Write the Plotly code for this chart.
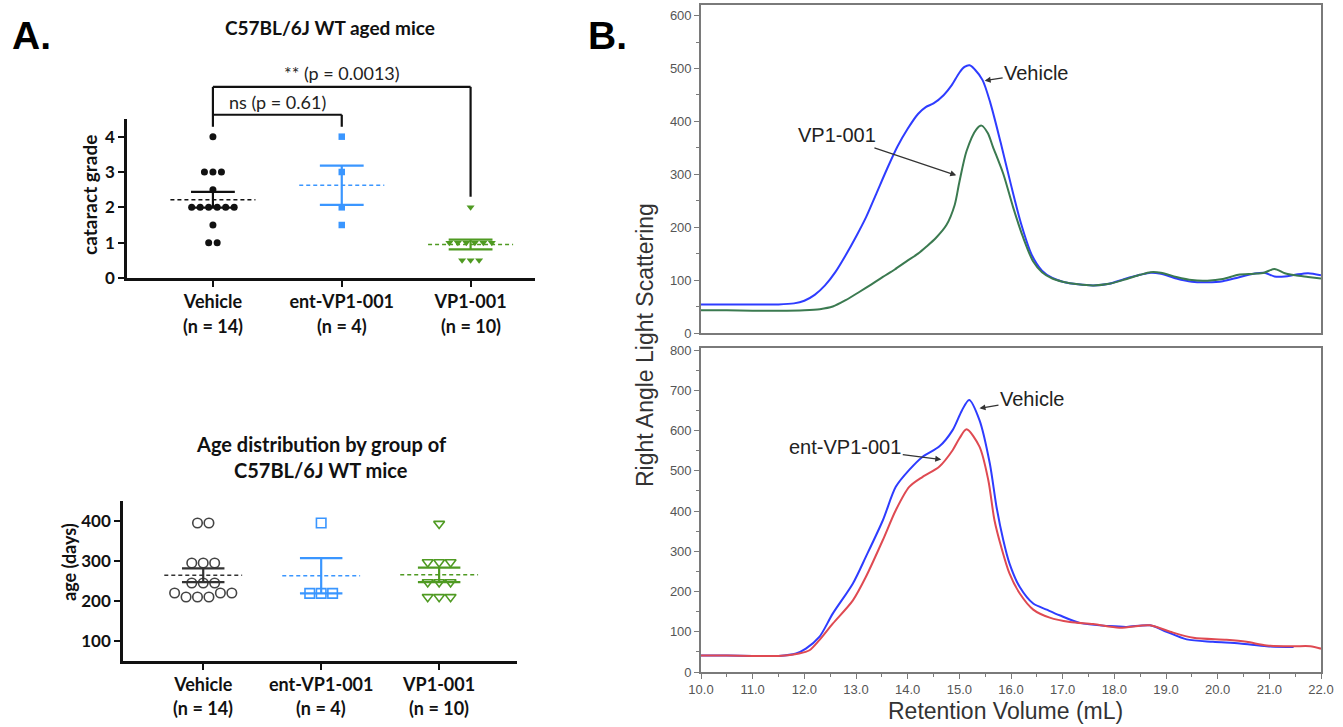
import numpy as np
import plotly.graph_objects as go

W, H = 1343, 727

# ---------------- data ----------------
groups = ["Vehicle", "ent-VP1-001", "VP1-001"]

grade_vehicle = [4, 3, 3, 3, 2.5, 2, 2, 2, 2, 2, 2, 1.5, 1, 1]
grade_ent = [4, 3, 2, 1.5]
grade_vp1 = [2, 1, 1, 1, 1, 1, 1, 0.5, 0.5, 0.5]

age_vehicle = [395, 395, 295, 295, 295, 245, 245, 245, 220, 210, 210, 210, 220, 220]
age_ent = [395, 219, 219, 219]
age_vp1 = [393, 297, 297, 297, 247, 247, 247, 210, 210, 210]

p_labels = ["ns (p = 0.61)", "** (p = 0.0013)"]

vol_top_vehicle = [10.0, 10.5, 11.0, 11.5, 11.8, 12.0, 12.2, 12.4, 12.6, 12.8, 13.0, 13.2, 13.4, 13.6,
                   13.8, 14.0, 14.2, 14.35, 14.5, 14.7, 14.85, 15.0, 15.1, 15.2, 15.3, 15.45, 15.6,
                   15.8, 16.0, 16.2, 16.4, 16.6, 16.8, 17.0, 17.3, 17.6, 17.9, 18.2, 18.5, 18.7,
                   18.9, 19.2, 19.5, 19.8, 20.1, 20.4, 20.7, 20.9, 21.1, 21.3, 21.5, 21.75, 22.0]
rals_top_vehicle = [54, 54, 54, 54, 56, 61, 72, 90, 115, 147, 182, 220, 265, 310,
                    352, 386, 414, 427, 434, 450, 468, 492, 503, 506, 498, 478, 435,
                    360, 280, 205, 148, 118, 104, 97, 92, 90, 93, 102, 110, 114,
                    112, 103, 97, 96, 98, 105, 112, 114, 107, 107, 110, 113, 109]

vol_top_vp1 = [10.0, 10.5, 11.0, 11.5, 12.0, 12.3, 12.55, 12.8, 13.07, 13.3, 13.52, 13.75, 13.97,
               14.2, 14.36, 14.55, 14.75, 14.91, 15.0, 15.14, 15.33, 15.43, 15.55, 15.65, 15.85,
               16.04, 16.23, 16.43, 16.6, 16.8, 17.0, 17.3, 17.6, 17.9, 18.2, 18.5, 18.7, 18.9,
               19.2, 19.5, 19.8, 20.1, 20.4, 20.7, 20.9, 21.1, 21.3, 21.5, 21.75, 22.0]
rals_top_vp1 = [43, 43, 42, 42, 43, 45, 50, 62, 78, 92, 106, 120, 135,
                150, 163, 180, 204, 242, 285, 344, 385, 392, 378, 352, 301,
                238, 182, 135, 115, 103, 97, 92, 90, 93, 101, 110, 115, 114,
                106, 100, 99, 102, 110, 112, 114, 121, 113, 109, 106, 103]

vol_bot_vehicle = [10.0, 10.5, 11.0, 11.5, 11.84, 12.03, 12.29, 12.55, 12.94, 13.19, 13.52, 13.77,
                   14.03, 14.29, 14.61, 14.87, 15.05, 15.19, 15.39, 15.59, 15.72, 15.85, 15.97,
                   16.17, 16.43, 16.69, 16.94, 17.33, 17.91, 18.24, 18.69, 19.01, 19.4, 19.91,
                   20.43, 20.95, 21.47]
rals_bot_vehicle = [41, 41, 40, 40, 46, 58, 87, 145, 220, 286, 377, 460,
                    502, 535, 560, 601, 650, 676, 626, 518, 410, 328, 270,
                    211, 170, 155, 141, 122, 114, 112, 116, 100, 81, 75,
                    71, 64, 62]

vol_bot_ent = [10.0, 10.5, 11.0, 11.5, 11.9, 12.1, 12.29, 12.55, 12.94, 13.19, 13.52, 13.77,
               14.03, 14.29, 14.61, 14.87, 15.0, 15.14, 15.39, 15.56, 15.68, 15.81, 15.97,
               16.17, 16.43, 16.75, 17.14, 17.59, 18.1, 18.69, 19.08, 19.53, 20.17, 20.56,
               20.95, 21.47, 21.79, 22.0]
rals_bot_ent = [41, 41, 40, 40, 46, 54, 79, 120, 178, 236, 328, 402,
                460, 485, 510, 551, 580, 603, 560, 477, 377, 311, 245,
                195, 155, 135, 124, 119, 110, 116, 100, 85, 80, 75,
                66, 64, 64, 58]

# ---------------- helpers ----------------
def px2paper_x(px):
    return px / W

def px2paper_y(py):
    return 1 - py / H

def swarm(values, center, step, tol):
    xs = [None] * len(values)
    rows = []
    for i, v in enumerate(values):
        for r in rows:
            if abs(r[0] - v) <= tol:
                r[1].append(i)
                break
        else:
            rows.append([v, [i]])
    for _, idx in rows:
        n = len(idx)
        for k, i in enumerate(idx):
            xs[i] = center + (k - (n - 1) / 2) * step
    return xs

def mean_sem(v):
    a = np.asarray(v, float)
    return a.mean(), a.std(ddof=1) / np.sqrt(len(a))

FONT_A = "Lato"
FONT_B = "Liberation Sans"
BLACK = "#111111"
BLUE_A = "#3a96ff"
GREEN_A = "#4f9a22"
colors_A = [BLACK, BLUE_A, GREEN_A]

fig = go.Figure()

# ---------------- Panel A top: cataract grade ----------------
XR_A1 = [-0.667, 2.5]
YR_A1 = [0, 4.5]
sym_top = ["circle", "square", "triangle-down"]
size_top = [7, 6.5, 7]
for gi, vals in enumerate([grade_vehicle, grade_ent, grade_vp1]):
    xs = swarm(vals, gi, 0.066, 0.2)
    m, s = mean_sem(vals)
    fig.add_trace(go.Scatter(x=[gi - 0.33, gi + 0.33], y=[m, m], mode="lines",
                             line=dict(color=colors_A[gi], width=1.5, dash="4px,3px"),
                             xaxis="x", yaxis="y", showlegend=False, hoverinfo="skip"))
    fig.add_trace(go.Scatter(
        x=[gi - 0.17, gi + 0.17, None, gi - 0.17, gi + 0.17, None, gi, gi],
        y=[m + s, m + s, None, m - s, m - s, None, m - s, m + s],
        mode="lines", line=dict(color=colors_A[gi], width=2.2),
        xaxis="x", yaxis="y", showlegend=False, hoverinfo="skip"))
    fig.add_trace(go.Scatter(x=xs, y=vals, mode="markers",
                             marker=dict(symbol=sym_top[gi], size=size_top[gi], color=colors_A[gi],
                                         line=dict(width=0)),
                             xaxis="x", yaxis="y", showlegend=False))

# ---------------- Panel A bottom: age ----------------
XR_A2 = [-0.68, 2.66]
YR_A2 = [50, 450]
sym_bot = ["circle-open", "square-open", "triangle-down-open"]
for gi, vals in enumerate([age_vehicle, age_ent, age_vp1]):
    xs = swarm(vals, gi, 0.097, 15)
    m, s = mean_sem(vals)
    fig.add_trace(go.Scatter(x=xs, y=vals, mode="markers",
                             marker=dict(symbol=sym_bot[gi], size=9.5, color=colors_A[gi] if gi else "#444444",
                                         line=dict(width=1.6)),
                             xaxis="x2", yaxis="y2", showlegend=False))
    fig.add_trace(go.Scatter(x=[gi - 0.33, gi + 0.33], y=[m, m], mode="lines",
                             line=dict(color=colors_A[gi] if gi else "#333333", width=1.5, dash="4px,3px"),
                             xaxis="x2", yaxis="y2", showlegend=False, hoverinfo="skip"))
    fig.add_trace(go.Scatter(
        x=[gi - 0.18, gi + 0.18, None, gi - 0.18, gi + 0.18, None, gi, gi],
        y=[m + s, m + s, None, m - s, m - s, None, m - s, m + s],
        mode="lines", line=dict(color=colors_A[gi] if gi else "#333333", width=2.2),
        xaxis="x2", yaxis="y2", showlegend=False, hoverinfo="skip"))

# ---------------- Panel B curves ----------------
BLUE_B = "#2e3cff"
GREEN_B = "#3b7a50"
RED_B = "#df4a52"
fig.add_trace(go.Scatter(x=vol_top_vehicle, y=rals_top_vehicle, mode="lines",
                         line=dict(color=BLUE_B, width=2, shape="spline", smoothing=0.8),
                         xaxis="x3", yaxis="y3", showlegend=False))
fig.add_trace(go.Scatter(x=vol_top_vp1, y=rals_top_vp1, mode="lines",
                         line=dict(color=GREEN_B, width=2, shape="spline", smoothing=0.8),
                         xaxis="x3", yaxis="y3", showlegend=False))
fig.add_trace(go.Scatter(x=vol_bot_vehicle, y=rals_bot_vehicle, mode="lines",
                         line=dict(color=BLUE_B, width=2, shape="spline", smoothing=0.8),
                         xaxis="x4", yaxis="y4", showlegend=False))
fig.add_trace(go.Scatter(x=vol_bot_ent, y=rals_bot_ent, mode="lines",
                         line=dict(color=RED_B, width=2, shape="spline", smoothing=0.8),
                         xaxis="x4", yaxis="y4", showlegend=False))

# ---------------- axes ----------------
ytickA = dict(family=FONT_A, size=17, color=BLACK, weight="bold")
xtickA = dict(family=FONT_A, size=18, color=BLACK, weight="bold")
axA_common = dict(showgrid=False, zeroline=False, showline=True, linecolor=BLACK, linewidth=2.5,
                  ticks="outside", ticklen=6, tickwidth=2, tickcolor=BLACK, automargin=False)

gray = "#7a7a7a"
tickB = dict(family=FONT_B, size=13, color="#555555")
axB_common = dict(showgrid=False, zeroline=False, showline=True, linecolor=gray, linewidth=1.6,
                  mirror=True, tickfont=tickB, automargin=False)

fig.update_layout(
    width=W, height=H, margin=dict(l=0, r=0, t=0, b=0, autoexpand=False),
    paper_bgcolor="white", plot_bgcolor="white",
    xaxis=dict(domain=[px2paper_x(127), px2paper_x(535)], range=XR_A1, anchor="y",
               tickvals=[0, 1, 2], ticktext=groups, tickfont=xtickA, **axA_common),
    yaxis=dict(domain=[px2paper_y(278), px2paper_y(119)], range=YR_A1, anchor="x",
               tickvals=[0, 1, 2, 3, 4], tickfont=ytickA, **axA_common),
    xaxis2=dict(domain=[px2paper_x(123), px2paper_x(517)], range=XR_A2, anchor="y2",
                tickvals=[0, 1, 2], ticktext=groups, tickfont=xtickA, **axA_common),
    yaxis2=dict(domain=[px2paper_y(661), px2paper_y(501)], range=YR_A2, anchor="x2",
                tickvals=[100, 200, 300, 400], tickfont=ytickA, **axA_common),
    xaxis3=dict(domain=[px2paper_x(701), px2paper_x(1321)], range=[10, 22], anchor="y3",
                showticklabels=False, ticks="", **axB_common),
    yaxis3=dict(domain=[px2paper_y(333), px2paper_y(5)], range=[0, 620], anchor="x3",
                dtick=100, tick0=0, ticks="outside", ticklen=5, tickcolor=gray, tickwidth=1.2,
                minor=dict(dtick=50, tick0=0, ticks="outside", ticklen=3, tickcolor=gray, tickwidth=1),
                **axB_common),
    xaxis4=dict(domain=[px2paper_x(701), px2paper_x(1321)], range=[10, 22], anchor="y4",
                dtick=1, tick0=10, tickformat=".1f", ticks="outside", ticklen=5, tickcolor=gray,
                tickwidth=1.2,
                minor=dict(dtick=0.5, tick0=10, ticks="outside", ticklen=3, tickcolor=gray, tickwidth=1),
                **axB_common),
    yaxis4=dict(domain=[px2paper_y(672), px2paper_y(348)], range=[0, 805], anchor="x4",
                dtick=100, tick0=0, ticks="outside", ticklen=5, tickcolor=gray, tickwidth=1.2,
                minor=dict(dtick=50, tick0=0, ticks="outside", ticklen=3, tickcolor=gray, tickwidth=1),
                **axB_common),
)

# ---------------- significance brackets (panel A top) ----------------
def xdom(c):
    return (c - XR_A1[0]) / (XR_A1[1] - XR_A1[0])

def ydom(v):
    return (v - YR_A1[0]) / (YR_A1[1] - YR_A1[0])

br_lines = [
    (0, 5.41, 0, 4.28),      # shared left leg
    (0, 4.62, 1, 4.62),      # ns bracket top
    (1, 4.62, 1, 4.28),      # ns right leg
    (0, 5.41, 2, 5.41),      # ** bracket top
    (2, 5.41, 2, 2.3),       # ** right leg
]
for x0, y0, x1, y1 in br_lines:
    fig.add_shape(type="line", xref="x domain", yref="y domain",
                  x0=xdom(x0), y0=ydom(y0), x1=xdom(x1), y1=ydom(y1),
                  line=dict(color=BLACK, width=2.2))

annots = []
annots.append(dict(text=p_labels[0], xref="x domain", yref="y domain", x=xdom(0.5), y=ydom(4.62),
                   yanchor="bottom", xanchor="center", yshift=0, showarrow=False,
                   font=dict(family=FONT_A, size=18, color="#222222")))
annots.append(dict(text=p_labels[1], xref="x domain", yref="y domain", x=xdom(1), y=ydom(5.41),
                   yanchor="bottom", xanchor="center", yshift=1, showarrow=False,
                   font=dict(family=FONT_A, size=18, color="#222222")))

# n labels
for gi, vals in enumerate([grade_vehicle, grade_ent, grade_vp1]):
    annots.append(dict(text=f"(n = {len(vals)})", xref="x", yref="paper", x=gi, y=px2paper_y(326),
                       yanchor="middle", showarrow=False, font=xtickA))
for gi, vals in enumerate([age_vehicle, age_ent, age_vp1]):
    annots.append(dict(text=f"(n = {len(vals)})", xref="x2", yref="paper", x=gi, y=px2paper_y(708),
                       yanchor="middle", showarrow=False, font=xtickA))

# titles & labels panel A
annots += [
    dict(text="A.", xref="paper", yref="paper", x=px2paper_x(10), y=px2paper_y(36), xanchor="left",
         yanchor="middle", showarrow=False, font=dict(family=FONT_B, size=39, color="black", weight="bold")),
    dict(text="B.", xref="paper", yref="paper", x=px2paper_x(586), y=px2paper_y(36), xanchor="left",
         yanchor="middle", showarrow=False, font=dict(family=FONT_B, size=39, color="black", weight="bold")),
    dict(text="C57BL/6J WT aged mice", xref="paper", yref="paper", x=px2paper_x(330), y=px2paper_y(27),
         xanchor="center", yanchor="middle", showarrow=False,
         font=dict(family=FONT_A, size=19, color=BLACK, weight="bold")),
    dict(text="Age distribution by group of", xref="paper", yref="paper", x=px2paper_x(321),
         y=px2paper_y(444), xanchor="center", yanchor="middle", showarrow=False,
         font=dict(family=FONT_A, size=20, color=BLACK, weight="bold")),
    dict(text="C57BL/6J WT mice", xref="paper", yref="paper", x=px2paper_x(321),
         y=px2paper_y(470), xanchor="center", yanchor="middle", showarrow=False,
         font=dict(family=FONT_A, size=20, color=BLACK, weight="bold")),
    dict(text="cataract grade", xref="paper", yref="paper", x=px2paper_x(89), y=px2paper_y(195),
         textangle=-90, xanchor="center", yanchor="middle", showarrow=False,
         font=dict(family=FONT_A, size=19, color=BLACK, weight="bold")),
    dict(text="age (days)", xref="paper", yref="paper", x=px2paper_x(69), y=px2paper_y(562),
         textangle=-90, xanchor="center", yanchor="middle", showarrow=False,
         font=dict(family=FONT_A, size=18, color=BLACK, weight="bold")),
    dict(text="Right Angle Light Scattering", xref="paper", yref="paper", x=px2paper_x(645),
         y=px2paper_y(345), textangle=-90, xanchor="center", yanchor="middle", showarrow=False,
         font=dict(family=FONT_B, size=23, color="#333333")),
    dict(text="Retention Volume (mL)", xref="paper", yref="paper", x=px2paper_x(1005),
         y=px2paper_y(711), xanchor="center", yanchor="middle", showarrow=False,
         font=dict(family=FONT_B, size=23, color="#333333")),
]

# curve labels with arrows
arrow_font = dict(family=FONT_B, size=20, color="#222222")
arr = dict(showarrow=True, arrowhead=2, arrowsize=1, arrowwidth=1.2, arrowcolor="#333333", standoff=0,
           font=arrow_font)
annots += [
    dict(text="Vehicle", xref="x3", yref="y3", x=15.49, y=477, ax=52, ay=-8, **arr),
    dict(text="VP1-001", xref="x3", yref="y3", x=14.94, y=298, ax=-119, ay=-40, **arr),
    dict(text="Vehicle", xref="x4", yref="y4", x=15.39, y=655, ax=53, ay=-9, **arr),
    dict(text="ent-VP1-001", xref="x4", yref="y4", x=14.65, y=528, ax=-96, ay=-12, **arr),
]
fig.update_layout(annotations=annots)

# remove the default page margin so the figure sits at the window's top-left corner
fig.write_html("out.html", config={"displayModeBar": False},
               post_script="document.body.style.margin='0';")
